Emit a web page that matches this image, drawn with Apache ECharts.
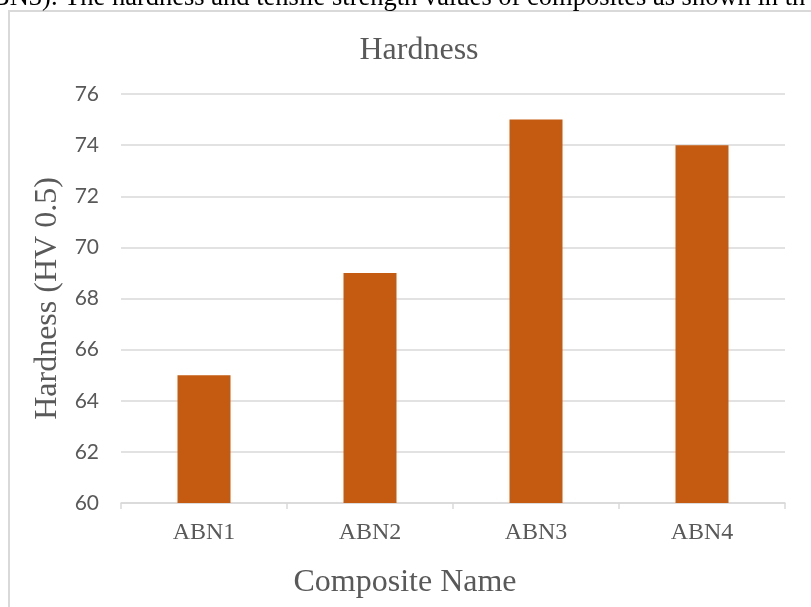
<!DOCTYPE html>
<html>
<head>
<meta charset="utf-8">
<script src="https://cdn.jsdelivr.net/npm/echarts@6/dist/echarts.min.js"></script>
<style>html,body{margin:0;padding:0;background:#fff}#c{width:811px;height:607px}</style>
</head>
<body>
<div id="c"></div>
<script>
var categories = ['ABN1', 'ABN2', 'ABN3', 'ABN4'];
var hardness = [65, 69, 75, 74];
var yTicks = [60, 62, 64, 66, 68, 70, 72, 74, 76];
var chartTitle = 'Hardness';
var xName = 'Composite Name';
var yName = 'Hardness (HV 0.5)';
var topLine = 'BN3). The hardness and tensile strength values of composites as shown in th';

var chart = echarts.init(document.getElementById('c'), null, {renderer: 'canvas'});
chart.setOption({
  animation: false,
  backgroundColor: '#fff',
  title: {
    text: chartTitle,
    left: 414, top: 30, textAlign: 'center',
    textStyle: {fontFamily: 'Liberation Serif', fontSize: 32, fontWeight: 'normal', color: '#595959'}
  },
  graphic: [
    {type: 'rect', shape: {x: 9, y: 11, width: 900, height: 700},
     style: {fill: 'none', stroke: '#d9d9d9', lineWidth: 2}, silent: true, z: -1},
    {type: 'text', x: -8, y: 12,
     style: {text: topLine, font: '26.5px "Liberation Serif"', fill: '#000', verticalAlign: 'bottom'}}
  ],
  grid: {left: 121, right: 26, top: 94, bottom: 104, containLabel: false},
  xAxis: {
    type: 'category', data: categories,
    name: xName, nameLocation: 'middle', nameGap: 64,
    nameTextStyle: {fontFamily: 'Liberation Serif', fontSize: 32, color: '#595959', padding: [0, 96, 0, 0]},
    axisLine: {lineStyle: {color: '#d9d9d9', width: 1.5}},
    axisTick: {show: true, length: 6, lineStyle: {color: '#d9d9d9', width: 1.5}},
    axisLabel: {fontFamily: 'Liberation Serif', fontSize: 24, color: '#595959', margin: 18}
  },
  yAxis: {
    type: 'value', min: yTicks[0], max: yTicks[yTicks.length - 1], interval: 2,
    name: yName, nameLocation: 'middle', nameGap: 57, nameRotate: 90,
    nameTextStyle: {fontFamily: 'Liberation Serif', fontSize: 32, color: '#595959'},
    axisLine: {show: false}, axisTick: {show: false},
    axisLabel: {fontFamily: 'Lato', fontSize: 21, color: '#595959', margin: 22},
    splitLine: {lineStyle: {color: '#d9d9d9', width: 1.5}}
  },
  series: [{
    type: 'bar', data: hardness, barWidth: 53,
    itemStyle: {color: '#C55A11'}
  }]
});
</script>
</body>
</html>
